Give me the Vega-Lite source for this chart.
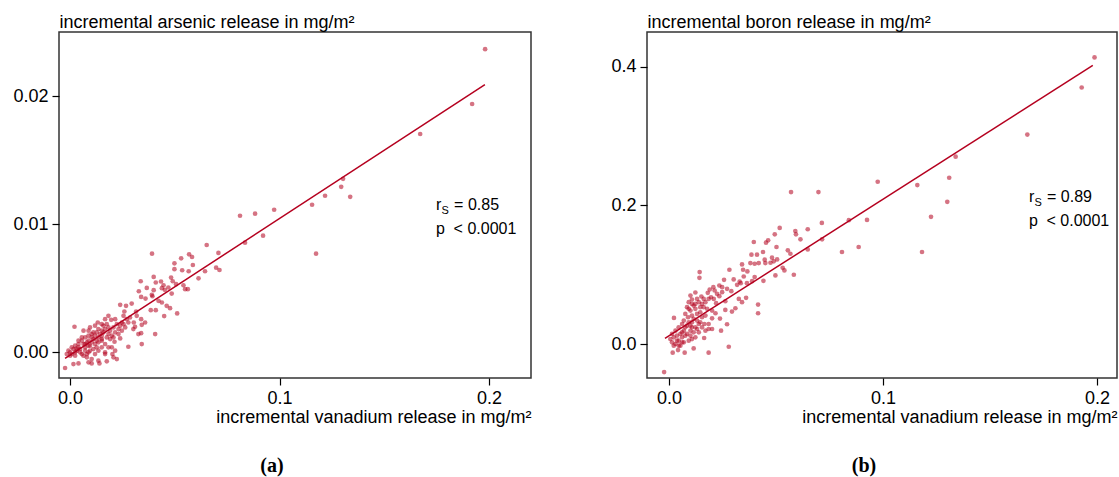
{
  "$schema": "https://vega.github.io/schema/vega-lite/v6.json",
  "background": "white",
  "padding": {"left": 12, "top": 12, "right": 3, "bottom": 0},
  "spacing": 78,
  "datasets": {
    "arsenic": [
      {"v":0.0652,"y":0.00838},{"v":0.0391,"y":0.0077},{"v":0.0568,"y":0.00765},{"v":0.053,"y":0.00734},{"v":0.0582,"y":0.00744},
      {"v":0.0708,"y":0.00776},{"v":0.0498,"y":0.00695},{"v":0.0586,"y":0.00682},{"v":0.0535,"y":0.00641},{"v":0.0498,"y":0.00649},
      {"v":0.0566,"y":0.00633},{"v":0.0644,"y":0.00633},{"v":0.0697,"y":0.00661},{"v":0.0713,"y":0.00643},{"v":0.0613,"y":0.00578},
      {"v":0.0399,"y":0.00589},{"v":0.0337,"y":0.00555},{"v":0.0409,"y":0.00545},{"v":0.0434,"y":0.00553},{"v":0.0482,"y":0.00584},
      {"v":0.049,"y":0.00555},{"v":0.0446,"y":0.00524},{"v":0.0469,"y":0.00506},{"v":0.0438,"y":0.00501},{"v":0.0328,"y":0.00477},
      {"v":0.0366,"y":0.00503},{"v":0.0399,"y":0.00485},{"v":0.0452,"y":0.00488},{"v":0.0549,"y":0.00493},{"v":0.0562,"y":0.00493},
      {"v":0.0485,"y":0.00459},{"v":0.0506,"y":0.00532},{"v":0.0541,"y":0.00524},{"v":0.0339,"y":0.00433},{"v":0.036,"y":0.0042},
      {"v":0.039,"y":0.00449},{"v":0.0393,"y":0.00438},{"v":0.0422,"y":0.00402},{"v":0.0461,"y":0.00363},{"v":0.0477,"y":0.00345},
      {"v":0.0511,"y":0.00304},{"v":0.0449,"y":0.00283},{"v":0.0385,"y":0.00329},{"v":0.0409,"y":0.00329},{"v":0.0438,"y":0.00389},
      {"v":0.0294,"y":0.00381},{"v":0.0267,"y":0.00363},{"v":0.0239,"y":0.00371},{"v":0.0259,"y":0.00319},{"v":0.0315,"y":0.00319},
      {"v":0.0304,"y":0.00233},{"v":0.0339,"y":0.00259},{"v":0.0358,"y":0.00233},{"v":0.0342,"y":0.00215},{"v":0.031,"y":0.002},
      {"v":0.0406,"y":0.00143},{"v":0.0339,"y":0.0015},{"v":0.0342,"y":0.00065},{"v":0.0278,"y":0.00044},{"v":0.0239,"y":0.00109},
      {"v":0.0212,"y":0.00083},{"v":0.0183,"y":0.00285},{"v":0.0196,"y":0.00254},{"v":0.0167,"y":0.00259},{"v":0.0151,"y":0.0022},
      {"v":0.0132,"y":0.00233},{"v":0.0119,"y":0.00208},{"v":0.0088,"y":0.00169},{"v":0.0095,"y":0.00195},{"v":0.0064,"y":0.00169},
      {"v":0.0021,"y":0.002},{"v":0.0103,"y":0.00143},{"v":0.0135,"y":0.00117},{"v":0.0151,"y":0.00091},{"v":0.0119,"y":0.00065},
      {"v":0.0167,"y":0.00065},{"v":0.0183,"y":0.00039},{"v":0.0199,"y":0.00039},{"v":0.0215,"y":0.00013},{"v":0.0167,"y":0},
      {"v":0.0135,"y":0.00013},{"v":0.0088,"y":0},{"v":0.0072,"y":0.00039},{"v":0.004,"y":0.00065},{"v":0.0024,"y":0.00052},
      {"v":0.0008,"y":0.00039},{"v":-0.0008,"y":0.00013},{"v":-0.0016,"y":-0.00013},{"v":0,"y":-0.00026},{"v":0.0024,"y":0},
      {"v":0.0056,"y":-0.00013},{"v":0.008,"y":-0.00039},{"v":0.0103,"y":-0.00052},{"v":0.0135,"y":-0.00065},{"v":0.0175,"y":-0.0007},
      {"v":0.0207,"y":-0.00039},{"v":0.0167,"y":-0.00013},{"v":0.0119,"y":-0.00013},{"v":0.0088,"y":-0.00078},{"v":0.004,"y":-0.00086},
      {"v":0.0016,"y":-0.00091},{"v":-0.0024,"y":-0.00122},{"v":0.0103,"y":-0.00086},{"v":0.014,"y":-0.00086},{"v":0.0072,"y":0.00117},
      {"v":0.0056,"y":0.00091},{"v":0.0088,"y":0.00091},{"v":0.0103,"y":0.00117},{"v":0.0127,"y":0.00156},{"v":0.0151,"y":0.00169},
      {"v":0.0183,"y":0.00195},{"v":0.0207,"y":0.00195},{"v":0.0223,"y":0.0022},{"v":0.0247,"y":0.00233},{"v":0.027,"y":0.00259},
      {"v":0.0286,"y":0.00272},{"v":0.0183,"y":0.00143},{"v":0.0151,"y":0.0013},{"v":0.0231,"y":0.00143},{"v":0.0247,"y":0.00169},
      {"v":0.0263,"y":0.00195},{"v":0.0111,"y":0.00026},{"v":0.0151,"y":0.00039},{"v":0.0072,"y":0.00013},{"v":0.0048,"y":0.00026},
      {"v":0.0032,"y":0.00013},{"v":0.0016,"y":0.00026},{"v":0,"y":0},{"v":0.0202,"y":-0.00013},{"v":0.0223,"y":-0.00052},
      {"v":0.004,"y":0.00039},{"v":0.0064,"y":0.00065},{"v":0.008,"y":0.00078},{"v":0.0095,"y":0.00052},{"v":0.0111,"y":0.00104},
      {"v":0.0119,"y":0.0013},{"v":0.0135,"y":0.00078},{"v":0.0143,"y":0.00143},{"v":0.0159,"y":0.00156},{"v":0.0167,"y":0.00182},
      {"v":0.0191,"y":0.00169},{"v":0.0199,"y":0.0013},{"v":0.0215,"y":0.00156},{"v":0.0231,"y":0.00182},{"v":0.0239,"y":0.00208},
      {"v":0.0255,"y":0.0022},{"v":0.0278,"y":0.00233},{"v":0.0072,"y":0.00065},{"v":0.0088,"y":0.00052},{"v":0.0103,"y":0.00078},
      {"v":0.0127,"y":0.00039},{"v":0.003,"y":0.0003},{"v":0.0048,"y":0},{"v":0.0064,"y":-0.00026},{"v":0.008,"y":-0.00013},
      {"v":0.0095,"y":0.00013},{"v":0.0127,"y":0.00091},{"v":0.0151,"y":0.00104},{"v":0.0175,"y":0.00117},{"v":0.0191,"y":0.00104},
      {"v":0.0207,"y":0.00117},{"v":0.0008,"y":-0.00013},{"v":0.0024,"y":-0.00026},{"v":0.0175,"y":0.0022},{"v":0.0159,"y":0.00208},
      {"v":0.0135,"y":0.00182},{"v":0.0111,"y":0.00156},{"v":0.0088,"y":0.0013},{"v":0.0056,"y":0.00117},{"v":0.004,"y":0.00091},
      {"v":0.0326,"y":0.00143},{"v":0.0302,"y":0.00182},{"v":0.0318,"y":0.00285},{"v":0.0255,"y":0.00285},{"v":0.0215,"y":0.00259},
      {"v":0.1981,"y":0.02366},{"v":0.1919,"y":0.01938},{"v":0.1671,"y":0.01704},{"v":0.1303,"y":0.01354},{"v":0.1294,"y":0.01292},
      {"v":0.1337,"y":0.01214},{"v":0.1217,"y":0.01222},{"v":0.1155,"y":0.01152},{"v":0.0974,"y":0.01113},{"v":0.0883,"y":0.01082},
      {"v":0.0811,"y":0.01066},{"v":0.0921,"y":0.00911},{"v":0.1174,"y":0.0077},{"v":0.0835,"y":0.00856}
    ],
    "boron": [
      {"v":0.0396,"y":0.1471},{"v":0.0453,"y":0.1462},{"v":0.0463,"y":0.1495},{"v":0.0494,"y":0.1582},{"v":0.0517,"y":0.1674},
      {"v":0.059,"y":0.163},{"v":0.0593,"y":0.1582},{"v":0.0614,"y":0.151},{"v":0.0648,"y":0.1655},{"v":0.0715,"y":0.151},
      {"v":0.0648,"y":0.1365},{"v":0.0555,"y":0.1351},{"v":0.0567,"y":0.1302},{"v":0.0502,"y":0.1399},{"v":0.0439,"y":0.1327},
      {"v":0.0411,"y":0.1288},{"v":0.0385,"y":0.1288},{"v":0.0341,"y":0.1148},{"v":0.038,"y":0.1167},{"v":0.04,"y":0.1158},
      {"v":0.0419,"y":0.1167},{"v":0.0447,"y":0.1216},{"v":0.045,"y":0.1167},{"v":0.0481,"y":0.1245},{"v":0.0505,"y":0.122},
      {"v":0.0489,"y":0.1192},{"v":0.0474,"y":0.1172},{"v":0.0531,"y":0.11},{"v":0.0539,"y":0.1061},{"v":0.0583,"y":0.0999},
      {"v":0.0497,"y":0.0989},{"v":0.0441,"y":0.0912},{"v":0.04,"y":0.0965},{"v":0.0366,"y":0.1047},{"v":0.0346,"y":0.1071},
      {"v":0.033,"y":0.0902},{"v":0.0349,"y":0.0974},{"v":0.0302,"y":0.0931},{"v":0.0282,"y":0.1071},{"v":0.0257,"y":0.0926},
      {"v":0.0235,"y":0.0844},{"v":0.0248,"y":0.082},{"v":0.0207,"y":0.082},{"v":0.0213,"y":0.0772},{"v":0.019,"y":0.0786},
      {"v":0.0181,"y":0.0738},{"v":0.0196,"y":0.0675},{"v":0.022,"y":0.0589},{"v":0.0235,"y":0.069},{"v":0.0263,"y":0.0617},
      {"v":0.0291,"y":0.0762},{"v":0.0318,"y":0.0854},{"v":0.0335,"y":0.0878},{"v":0.0364,"y":0.0878},{"v":0.0388,"y":0.0907},
      {"v":0.036,"y":0.0666},{"v":0.0326,"y":0.0651},{"v":0.0341,"y":0.0603},{"v":0.031,"y":0.0516},{"v":0.0294,"y":0.0468},
      {"v":0.0263,"y":0.0492},{"v":0.0416,"y":0.0569},{"v":0.0416,"y":0.0444},{"v":0.0143,"y":0.1037},{"v":0.0142,"y":0.0955},
      {"v":0.0123,"y":0.0743},{"v":0.0151,"y":0.0685},{"v":0.0162,"y":0.0651},{"v":0.0107,"y":0.0642},{"v":0.0115,"y":0.0555},
      {"v":0.0092,"y":0.0603},{"v":0.0084,"y":0.0531},{"v":0.01,"y":0.0482},{"v":0.0123,"y":0.0507},{"v":0.0146,"y":0.0458},
      {"v":0.0162,"y":0.0531},{"v":0.0178,"y":0.0507},{"v":0.0201,"y":0.0482},{"v":0.0217,"y":0.0444},{"v":0.0238,"y":0.0367},
      {"v":0.0201,"y":0.0371},{"v":0.0185,"y":0.0289},{"v":0.0165,"y":0.0289},{"v":0.0146,"y":0.0314},{"v":0.0123,"y":0.0241},
      {"v":0.0107,"y":0.0314},{"v":0.0089,"y":0.0386},{"v":0.0069,"y":0.0338},{"v":0.0061,"y":0.0289},{"v":0.0045,"y":0.0241},
      {"v":0.0023,"y":0.0376},{"v":0.003,"y":0.0193},{"v":0.0014,"y":0.0145},{"v":0.0006,"y":0.0072},{"v":0.0014,"y":0.0024},
      {"v":0.003,"y":0},{"v":0.0045,"y":0.0048},{"v":0.0061,"y":0.0096},{"v":0.0076,"y":0.0121},{"v":0.01,"y":0.0193},
      {"v":0.0115,"y":0.0169},{"v":0.0131,"y":0.0217},{"v":0.0154,"y":0.0241},{"v":0.0185,"y":0.0217},{"v":0.0164,"y":0.0087},
      {"v":0.0201,"y":0.0217},{"v":0.0243,"y":0.0193},{"v":0.0271,"y":0.0285},{"v":0.0279,"y":-0.0039},{"v":0.0185,"y":-0.0125},
      {"v":0.0115,"y":-0.0063},{"v":0.0073,"y":-0.0125},{"v":0.0042,"y":-0.0087},{"v":0.0017,"y":-0.0125},{"v":-0.0023,"y":-0.0405},
      {"v":0.0053,"y":-0.0024},{"v":0.0069,"y":0.0024},{"v":0.0092,"y":0.0048},{"v":0.0123,"y":0.0096},{"v":0.0037,"y":0.0121},
      {"v":0.0076,"y":0.0241},{"v":0.01,"y":0.0265},{"v":0.0131,"y":0.0338},{"v":0.0154,"y":0.0386},{"v":0.017,"y":0.041},
      {"v":0.0107,"y":0.041},{"v":0.0076,"y":0.0434},{"v":0.0092,"y":0.0507},{"v":0.0123,"y":0.0579},{"v":0.0139,"y":0.0603},
      {"v":0.0154,"y":0.0579},{"v":0.017,"y":0.0603},{"v":0.0185,"y":0.0651},{"v":0.0209,"y":0.0651},{"v":0.0224,"y":0.0724},
      {"v":0.0248,"y":0.0748},{"v":0.0271,"y":0.0796},{"v":0.0061,"y":0.0169},{"v":0.0808,"y":0.1327},{"v":0.0022,"y":0.0096},
      {"v":0.0037,"y":0.0048},{"v":0.0053,"y":0.0145},{"v":0.0069,"y":0.0193},{"v":0.0084,"y":0.0265},{"v":0.0092,"y":0.0314},
      {"v":0.0107,"y":0.0241},{"v":0.0084,"y":0.0145},{"v":0.01,"y":0.0121},{"v":0.0139,"y":0.0169},{"v":0.017,"y":0.0193},
      {"v":0.0022,"y":-0.0024},{"v":0.0045,"y":-0.0024},{"v":0.0061,"y":0.0024},{"v":0.0107,"y":0.0072},{"v":0.0139,"y":0.0289},
      {"v":0.0115,"y":0.0362},{"v":0.0131,"y":0.0434},{"v":0.0146,"y":0.0531},{"v":0.0107,"y":0.0579},{"v":0.01,"y":0.0699},
      {"v":0.0131,"y":0.0651},
      {"v":0.1988,"y":0.4134},{"v":0.1928,"y":0.37},{"v":0.1674,"y":0.302},{"v":0.1339,"y":0.2702},{"v":0.1309,"y":0.2398},
      {"v":0.13,"y":0.2051},{"v":0.1224,"y":0.1834},{"v":0.116,"y":0.2292},{"v":0.0975,"y":0.234},{"v":0.0925,"y":0.179},
      {"v":0.084,"y":0.1786},{"v":0.0714,"y":0.1747},{"v":0.0698,"y":0.2191},{"v":0.057,"y":0.2191},{"v":0.0886,"y":0.1399},
      {"v":0.1182,"y":0.1327}
    ],
    "fitA": [{"v":-0.0024,"y":-0.00047},{"v":0.198,"y":0.0209}],
    "fitB": [{"v":-0.0019,"y":0.0082},{"v":0.198,"y":0.402}]
  },
  "hconcat": [
    {
      "width": 472,
      "height": 346,
      "title": {"text": "(a)", "orient": "bottom", "anchor": "middle", "frame": "bounds", "font": "Liberation Serif", "fontSize": 20, "fontWeight": "bold", "color": "#000", "offset": 30},
      "layer": [
        {
          "data": {"name": "arsenic"},
          "mark": {"type": "circle", "size": 22, "color": "#b3001e", "opacity": 0.55},
          "encoding": {
            "x": {"field": "v", "type": "quantitative", "scale": {"domain": [-0.0053, 0.22], "nice": false, "zero": false},
                  "axis": {"title": "incremental vanadium release in mg/m²", "titleAnchor": "end", "values": [0, 0.1, 0.2], "format": ".1f"}},
            "y": {"field": "y", "type": "quantitative", "scale": {"domain": [-0.002, 0.025], "nice": false, "zero": false},
                  "axis": {"title": "incremental arsenic release in mg/m²", "values": [0, 0.01, 0.02], "format": ".2f",
                           "titleAngle": 0, "titleAlign": "left", "titleBaseline": "alphabetic", "titleX": 0, "titleY": -5}}
          }
        },
        {
          "data": {"name": "fitA"},
          "mark": {"type": "line", "color": "#b5001f", "strokeWidth": 1.5},
          "encoding": {"x": {"field": "v", "type": "quantitative"}, "y": {"field": "y", "type": "quantitative"}}
        },
        {
          "data": {"values": [{}]},
          "mark": {"type": "text", "text": "r", "align": "left", "baseline": "alphabetic", "fontSize": 16},
          "encoding": {"x": {"datum": 0.1747}, "y": {"datum": 0.01113}}
        },
        {
          "data": {"values": [{}]},
          "mark": {"type": "text", "text": "S", "align": "left", "baseline": "alphabetic", "fontSize": 11, "dx": 5.5, "dy": 4},
          "encoding": {"x": {"datum": 0.1747}, "y": {"datum": 0.01113}}
        },
        {
          "data": {"values": [{}]},
          "mark": {"type": "text", "text": "= 0.85", "align": "left", "baseline": "alphabetic", "fontSize": 16, "dx": 18},
          "encoding": {"x": {"datum": 0.1747}, "y": {"datum": 0.01113}}
        },
        {
          "data": {"values": [{}]},
          "mark": {"type": "text", "text": "p", "align": "left", "baseline": "alphabetic", "fontSize": 16},
          "encoding": {"x": {"datum": 0.1747}, "y": {"datum": 0.00926}}
        },
        {
          "data": {"values": [{}]},
          "mark": {"type": "text", "text": "< 0.0001", "align": "left", "baseline": "alphabetic", "fontSize": 16, "dx": 17.5},
          "encoding": {"x": {"datum": 0.1747}, "y": {"datum": 0.00926}}
        }
      ]
    },
    {
      "width": 470,
      "height": 346,
      "title": {"text": "(b)", "orient": "bottom", "anchor": "middle", "frame": "bounds", "font": "Liberation Serif", "fontSize": 20, "fontWeight": "bold", "color": "#000", "offset": 30},
      "layer": [
        {
          "data": {"name": "boron"},
          "mark": {"type": "circle", "size": 22, "color": "#b3001e", "opacity": 0.55},
          "encoding": {
            "x": {"field": "v", "type": "quantitative", "scale": {"domain": [-0.0103, 0.2093], "nice": false, "zero": false},
                  "axis": {"title": "incremental vanadium release in mg/m²", "titleAnchor": "end", "values": [0, 0.1, 0.2], "format": ".1f"}},
            "y": {"field": "y", "type": "quantitative", "scale": {"domain": [-0.049, 0.45], "nice": false, "zero": false},
                  "axis": {"title": "incremental boron release in mg/m²", "values": [0, 0.2, 0.4], "format": ".1f",
                           "titleAngle": 0, "titleAlign": "left", "titleBaseline": "alphabetic", "titleX": 0, "titleY": -5}}
          }
        },
        {
          "data": {"name": "fitB"},
          "mark": {"type": "line", "color": "#b5001f", "strokeWidth": 1.5},
          "encoding": {"x": {"field": "v", "type": "quantitative"}, "y": {"field": "y", "type": "quantitative"}}
        },
        {
          "data": {"values": [{}]},
          "mark": {"type": "text", "text": "r", "align": "left", "baseline": "alphabetic", "fontSize": 16},
          "encoding": {"x": {"datum": 0.1682}, "y": {"datum": 0.2051}}
        },
        {
          "data": {"values": [{}]},
          "mark": {"type": "text", "text": "S", "align": "left", "baseline": "alphabetic", "fontSize": 11, "dx": 5.5, "dy": 4},
          "encoding": {"x": {"datum": 0.1682}, "y": {"datum": 0.2051}}
        },
        {
          "data": {"values": [{}]},
          "mark": {"type": "text", "text": "= 0.89", "align": "left", "baseline": "alphabetic", "fontSize": 16, "dx": 18},
          "encoding": {"x": {"datum": 0.1682}, "y": {"datum": 0.2051}}
        },
        {
          "data": {"values": [{}]},
          "mark": {"type": "text", "text": "p", "align": "left", "baseline": "alphabetic", "fontSize": 16},
          "encoding": {"x": {"datum": 0.1682}, "y": {"datum": 0.1703}}
        },
        {
          "data": {"values": [{}]},
          "mark": {"type": "text", "text": "< 0.0001", "align": "left", "baseline": "alphabetic", "fontSize": 16, "dx": 17.5},
          "encoding": {"x": {"datum": 0.1682}, "y": {"datum": 0.1703}}
        }
      ]
    }
  ],
  "config": {
    "font": "Liberation Sans",
    "view": {"stroke": "#333", "strokeWidth": 1.5},
    "text": {"font": "Liberation Sans", "color": "#000"},
    "axis": {
      "domain": false,
      "grid": false,
      "tickColor": "#000",
      "tickSize": 7,
      "tickWidth": 1.2,
      "labelFont": "Liberation Sans",
      "labelFontSize": 18,
      "labelColor": "#000",
      "labelFlush": false,
      "labelPadding": 4,
      "titleFont": "Liberation Sans",
      "titleFontSize": 18,
      "titleFontWeight": "normal",
      "titleColor": "#000",
      "titlePadding": 1
    }
  }
}
